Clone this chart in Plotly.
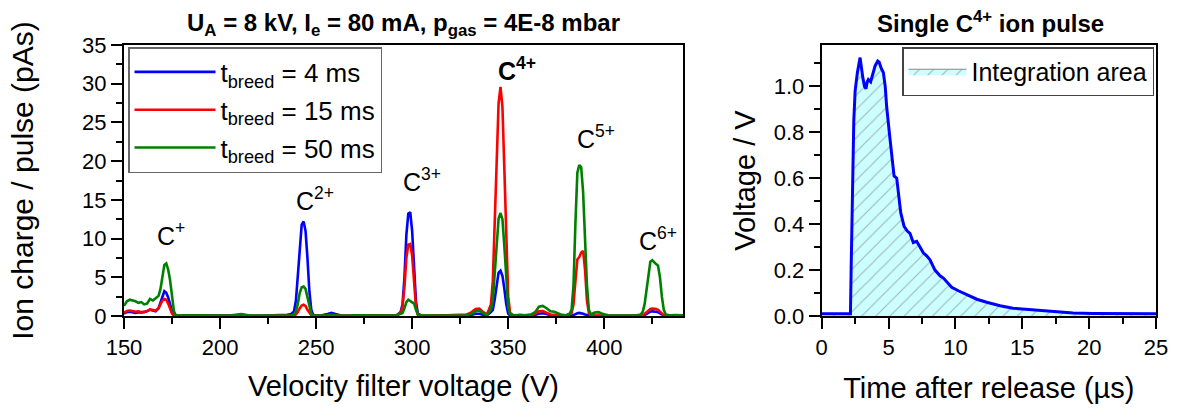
import plotly.graph_objects as go

# ---------------- Left panel data ----------------
voltage = [150, 151.5, 153, 154.5, 156, 157.5, 159, 160.5, 162, 163.5, 165, 166.5, 168,
           169, 170, 171, 172, 173, 174, 175, 176, 177,
           179, 182, 186, 190, 194, 198, 202, 206, 209, 211, 213, 216, 220, 224, 228, 232, 235, 237,
           238.5, 239.5, 240.5, 241.5, 242.5, 243.5, 244.5, 245.5, 246.5, 247.5, 248.5,
           250, 253, 256, 258, 260, 263, 267, 271, 275, 279, 283, 287, 290, 292, 294,
           295, 296, 297, 298, 299, 300, 301, 302, 303,
           305, 308, 312, 316, 320, 324, 328, 331, 333, 335, 337, 339, 341,
           342, 343, 344, 345, 346, 347, 348, 349, 350, 351,
           353, 356, 359, 362, 364, 366, 368, 370, 372, 374, 376, 378, 380, 382,
           383, 384, 385, 386, 387, 388, 389, 390, 391, 392, 393,
           395, 397, 399, 402, 406, 410, 414, 417, 419,
           420, 421, 422, 423, 424, 425, 426, 427, 428, 429, 430, 431, 432,
           434, 437, 441]

charge_4ms = [0.3, 0.5, 0.55, 0.45, 0.4, 0.5, 0.45, 0.5, 0.6, 0.8, 0.7, 0.6, 1.0,
              1.8, 2.7, 3.2, 3.0, 2.4, 1.5, 0.6, 0.15, 0.05,
              0.03, 0.04, 0.03, 0.05, 0.03, 0.04, 0.03, 0.05, 0.1, 0.2, 0.1, 0.04, 0.03, 0.05, 0.05, 0.06, 0.15, 0.25,
              0.6, 2.0, 5.5, 9.5, 11.8, 12.2, 11.0, 7.5, 3.2, 0.8, 0.15,
              0.05, 0.08, 0.25, 0.42, 0.25, 0.06, 0.04, 0.05, 0.03, 0.04, 0.1, 0.06, 0.05, 0.1, 0.5,
              1.5, 5.0, 10.5, 13.2, 13.4, 11.0, 6.0, 1.8, 0.3,
              0.05, 0.04, 0.05, 0.04, 0.06, 0.05, 0.08, 0.15, 0.3, 0.3, 0.15, 0.1, 0.5,
              0.8, 2.2, 4.2, 5.6, 5.85, 5.2, 3.5, 1.5, 0.3, 0.05,
              0.02, 0.04, 0.03, 0.05, 0.15, 0.3, 0.35, 0.25, 0.1, 0.08, 0.04, 0.03, 0.03, 0.1,
              0.06, 0.12, 0.25, 0.35, 0.4, 0.38, 0.3, 0.2, 0.1, 0.05, 0.03,
              0.03, 0.04, 0.03, 0.02, 0.02, 0.02, 0.03, 0.03, 0.06,
              0.05, 0.12, 0.3, 0.45, 0.55, 0.6, 0.6, 0.55, 0.5, 0.35, 0.15, 0.05, 0.02,
              0.02, 0.03, 0.02]

charge_15ms = [0.4, 0.65, 0.7, 0.6, 0.55, 0.6, 0.5, 0.55, 0.6, 0.85, 0.8, 0.7, 1.0,
               1.5, 2.0, 2.2, 2.1, 1.6, 0.9, 0.3, 0.08, 0.03,
               0.02, 0.03, 0.02, 0.03, 0.02, 0.03, 0.02, 0.03, 0.05, 0.08, 0.05, 0.03, 0.02, 0.03, 0.03, 0.03, 0.05, 0.08,
               0.08, 0.2, 0.5, 1.0, 1.35, 1.45, 1.3, 0.8, 0.35, 0.1, 0.03,
               0.03, 0.03, 0.06, 0.08, 0.05, 0.03, 0.03, 0.04, 0.03, 0.03, 0.08, 0.04, 0.04, 0.1, 0.4,
               1.2, 3.8, 7.5, 9.2, 9.3, 7.8, 4.0, 1.2, 0.2,
               0.04, 0.03, 0.05, 0.04, 0.06, 0.1, 0.15, 0.5, 0.9, 0.95, 0.5, 0.2, 1.5,
               4.5, 12.0, 21.0, 27.5, 29.6, 27.0, 19.0, 9.0, 2.5, 0.4,
               0.03, 0.08, 0.06, 0.1, 0.3, 0.6, 0.65, 0.45, 0.2, 0.15, 0.08, 0.05, 0.05, 0.2,
               0.4, 1.5, 4.5, 7.3, 7.6, 8.2, 8.4, 6.0, 2.0, 0.4, 0.08,
               0.06, 0.08, 0.06, 0.04, 0.03, 0.03, 0.04, 0.05, 0.1,
               0.1, 0.25, 0.5, 0.75, 0.9, 0.95, 0.95, 0.9, 0.8, 0.6, 0.3, 0.1, 0.04,
               0.04, 0.03, 0.04]

charge_50ms = [1.3, 1.9, 2.1, 2.0, 1.9, 1.7, 1.8, 1.5, 1.6, 2.2, 2.0, 2.3, 2.6,
               3.5, 5.2, 6.6, 6.8, 6.0, 4.6, 2.4, 0.6, 0.1,
               0.05, 0.08, 0.06, 0.1, 0.05, 0.08, 0.06, 0.1, 0.15, 0.25, 0.15, 0.06, 0.05, 0.08, 0.06, 0.05, 0.1, 0.1,
               0.2, 0.6, 1.6, 3.0, 3.7, 3.8, 3.5, 2.4, 1.0, 0.3, 0.08,
               0.06, 0.05, 0.1, 0.15, 0.1, 0.06, 0.05, 0.08, 0.06, 0.05, 0.08, 0.06, 0.05, 0.08, 0.3,
               0.4, 1.0, 1.8, 2.1, 1.9, 1.7, 1.6, 0.8, 0.15,
               0.05, 0.06, 0.05, 0.06, 0.08, 0.06, 0.1, 0.3, 0.6, 0.7, 0.35, 0.15, 0.8,
               2.0, 5.5, 10.0, 12.6, 13.3, 12.5, 9.0, 4.5, 1.2, 0.2,
               0.05, 0.15, 0.1, 0.2, 0.5, 1.2, 1.3, 1.0, 0.6, 0.55, 0.3, 0.15, 0.1, 0.3,
               0.8, 4.0, 12.0, 18.5, 19.5, 19.2, 16.0, 10.0, 4.0, 0.8, 0.2,
               0.45, 0.5, 0.3, 0.1, 0.06, 0.05, 0.06, 0.08, 0.2,
               0.5, 1.5, 3.5, 5.5, 7.0, 7.2, 6.9, 6.7, 6.5, 5.0, 2.5, 0.8, 0.2,
               0.1, 0.12, 0.1]

series_names = ["t<sub>breed</sub> = 4 ms", "t<sub>breed</sub> = 15 ms", "t<sub>breed</sub> = 50 ms"]
series_colors = ["#0000ff", "#ff0000", "#008000"]

peak_labels = ["C<sup>+</sup>", "C<sup>2+</sup>", "C<sup>3+</sup>", "<b>C<sup>4+</sup></b>", "C<sup>5+</sup>", "C<sup>6+</sup>"]
peak_label_x = [174.5, 249.5, 305, 354.5, 395.5, 428]
peak_label_y = [10.6, 15.1, 17.6, 31.9, 23.1, 9.9]

# ---------------- Right panel data ----------------
time_us = [0, 1, 2, 2.15, 2.2, 2.3, 2.4, 2.5, 2.67, 2.87, 2.95, 3.07, 3.2, 3.31, 3.4, 3.49, 3.66,
           3.86, 4.0, 4.19, 4.3, 4.44, 4.61, 4.75, 4.86, 5.11, 5.41, 5.61, 5.78, 5.91, 6.16, 6.4,
           6.6, 6.85, 7.1, 7.35, 7.6, 7.85, 8.1, 8.47, 8.85, 9.1, 9.35, 9.72, 10.22, 10.85, 11.6,
           12.34, 13.34, 14.3, 15.8, 17.3, 18.8, 20.3, 21.8, 23.4, 25]
voltage_V = [0.01, 0.01, 0.01, 0.01, 0.2, 0.6, 0.85, 0.98, 1.06, 1.125, 1.08, 1.04, 1.0, 0.99,
             1.02, 1.03, 1.02, 1.06, 1.09, 1.11, 1.105, 1.08, 1.06, 1.0, 0.91, 0.77, 0.61, 0.6,
             0.5, 0.45, 0.39, 0.37, 0.36, 0.32, 0.325, 0.30, 0.275, 0.262, 0.245, 0.2, 0.175,
             0.165, 0.15, 0.125, 0.11, 0.092, 0.073, 0.06, 0.045, 0.034, 0.026, 0.02, 0.013,
             0.011, 0.01, 0.01, 0.01]

FONT = "Liberation Sans, Arial, sans-serif"
W, H = 1181, 412

fig = go.Figure()

for i, (name, col, ys) in enumerate(zip(series_names, series_colors, [charge_4ms, charge_15ms, charge_50ms])):
    fig.add_trace(go.Scatter(x=voltage, y=ys, mode="lines", name=name, legendgroup=f"g{i}",
                             line=dict(color=col, width=2.6), xaxis="x", yaxis="y",
                             legend="legend"))

fig.add_trace(go.Scatter(x=time_us, y=voltage_V, mode="lines", name="Integration area",
                         fill="tozeroy", fillcolor="#ccffff",
                         fillpattern=dict(shape="/", bgcolor="#ccffff", fgcolor="#a0b4b4",
                                          size=10, solidity=0.1),
                         line=dict(color="#888888", width=1), xaxis="x2", yaxis="y2",
                         legend="legend2"))
fig.add_trace(go.Scatter(x=time_us, y=voltage_V, mode="lines", showlegend=False,
                         line=dict(color="#0000ff", width=3), xaxis="x2", yaxis="y2"))

for txt, xv, yv in zip(peak_labels, peak_label_x, peak_label_y):
    fig.add_annotation(x=xv, y=yv, xref="x", yref="y", text=txt, showarrow=False,
                       font=dict(family=FONT, size=25, color="black"))

fig.add_annotation(x=403.5 / W, y=1 - 25 / H, xref="paper", yref="paper",
                   xanchor="center", yanchor="middle",
                   text="<b>U<sub>A</sub> = 8 kV, I<sub>e</sub> = 80 mA, p<sub>gas</sub> = 4E-8 mbar</b>",
                   showarrow=False, font=dict(family=FONT, size=24, color="black"))
fig.add_annotation(x=990 / W, y=1 - 22 / H, xref="paper", yref="paper",
                   xanchor="center", yanchor="middle",
                   text="<b>Single C<sup>4+</sup> ion pulse</b>",
                   showarrow=False, font=dict(family=FONT, size=24, color="black"))

axis_common = dict(showline=True, linewidth=2, linecolor="black", mirror=True,
                   ticks="outside", ticklen=11, tickwidth=2, tickcolor="black",
                   showgrid=False, zeroline=False, automargin=False,
                   tickfont=dict(family=FONT, size=22, color="black"))

y0 = 1 - 316 / H
y1 = 1 - 45 / H

fig.update_layout(
    template="none",
    width=W, height=H,
    margin=dict(l=0, r=0, t=0, b=0, autoexpand=False),
    paper_bgcolor="white", plot_bgcolor="white",
    font=dict(family=FONT, color="black"),
    xaxis=dict(domain=[124 / W, 683 / W], range=[150, 441], dtick=50, tick0=0,
               minor=dict(dtick=25, ticklen=6, tickwidth=2, ticks="outside", tickcolor="black"),
               title=dict(text="Velocity filter voltage (V)", font=dict(family=FONT, size=29), standoff=16),
               anchor="y", **axis_common),
    yaxis=dict(domain=[y0, y1], range=[0, 35], dtick=5, tick0=0,
               minor=dict(dtick=2.5, ticklen=6, tickwidth=2, ticks="outside", tickcolor="black"),
               title=dict(text="Ion charge / pulse (pAs)", font=dict(family=FONT, size=30), standoff=40),
               anchor="x", **axis_common),
    xaxis2=dict(domain=[821.7 / W, 1156 / W], range=[0, 25], dtick=5, tick0=0,
                minor=dict(dtick=2.5, ticklen=6, tickwidth=2, ticks="outside", tickcolor="black"),
                title=dict(text="Time after release (µs)", font=dict(family=FONT, size=29), standoff=18),
                anchor="y2", **axis_common),
    yaxis2=dict(domain=[y0, y1], range=[0, 1.18], dtick=0.2, tick0=0, tickformat=".1f",
                minor=dict(dtick=0.1, ticklen=6, tickwidth=2, ticks="outside", tickcolor="black"),
                title=dict(text="Voltage / V", font=dict(family=FONT, size=29), standoff=10),
                anchor="x2", **axis_common),
    legend=dict(x=128 / W, y=1 - 47 / H, xanchor="left", yanchor="top",
                bgcolor="white", bordercolor="#666666", borderwidth=1.5, itemwidth=81,
                font=dict(family=FONT, size=26, color="black"), tracegroupgap=1),
    legend2=dict(x=902 / W, y=1 - 47 / H, xanchor="left", yanchor="top",
                 bgcolor="white", bordercolor="#444444", borderwidth=1.5, itemwidth=58,
                 font=dict(family=FONT, size=25, color="black")),
)

fig.write_html("out.html")
